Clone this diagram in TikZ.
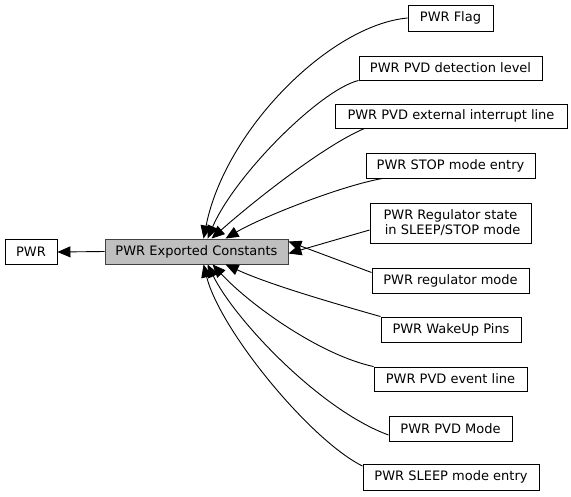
\documentclass[tikz,border=0pt]{standalone}
\usepackage{fontspec}
\setmainfont{DejaVu Sans}
\usetikzlibrary{arrows.meta}
\begin{document}
\begin{tikzpicture}[x=1pt,y=-1pt,
  box/.style={draw=black,line width=0.9pt,fill=white,inner sep=0pt,minimum height=25pt,align=center,font=\fontsize{13}{15}\selectfont},
  edge/.style={line width=0.9pt,-{Triangle[length=13pt,width=11pt]}}]
\useasboundingbox (0,0) rectangle (571,496);
\node[box,minimum width=52pt] (pwr) at (31,252) {PWR};
\node[box,minimum width=183pt,fill={rgb,255:red,191;green,191;blue,191},draw={rgb,255:red,64;green,64;blue,64}] (ec) at (196.5,251.5) {PWR Exported Constants};
\node[box,minimum width=85pt,minimum height=26pt] (flag) at (450.5,18) {PWR Flag};
\node[box,minimum width=183pt,minimum height=24pt] (det) at (450.5,68) {PWR PVD detection level};
\node[box,minimum width=232pt,minimum height=24pt] (ext) at (451,116) {PWR PVD external interrupt line};
\node[box,minimum width=169pt] (stop) at (450.5,165.5) {PWR STOP mode entry};
\node[box,minimum width=161pt,minimum height=40pt,font=\fontsize{13}{15}\selectfont] (rs) at (450.5,223) {PWR Regulator state\\ \ in SLEEP/STOP mode};
\node[box,minimum width=157pt] (rm) at (450.5,280.5) {PWR regulator mode};
\node[box,minimum width=140pt] (wu) at (451,329.5) {PWR WakeUp Pins};
\node[box,minimum width=153pt,minimum height=24pt] (ev) at (450.5,379) {PWR PVD event line};
\node[box,minimum width=123pt] (pm) at (450.5,428.5) {PWR PVD Mode};
\node[box,minimum width=176pt,minimum height=26pt] (sl) at (451,477) {PWR SLEEP mode entry};

\draw[edge] (ec.west) -- (pwr.east);
\draw[edge] (flag.west) .. controls (330,25) and (225,130) .. ([xshift=99pt]ec.north west);
\draw[edge] (det.south west) .. controls (320,90) and (235,175) .. ([xshift=103pt]ec.north west);
\draw[edge] ([xshift=30pt]ext.south west) .. controls (325,145) and (255,200) .. ([xshift=107pt]ec.north west);
\draw[edge] ([xshift=17pt]stop.south west) .. controls (340,186) and (260,218) .. ([xshift=121pt]ec.north west);
\draw[edge] ([yshift=-7pt]rs.west) -- ([yshift=-2pt]ec.east);
\draw[edge] ([yshift=8pt]rm.west) -- ([yshift=10pt]ec.east);
\draw[edge] (wu.north west) .. controls (340,305) and (270,285) .. ([xshift=121pt]ec.south west);
\draw[edge] (ev.north west) .. controls (320,355) and (250,305) .. ([xshift=108pt]ec.south west);
\draw[edge] ([yshift=-6.5pt]pm.west) .. controls (320,410) and (235,320) .. ([xshift=103pt]ec.south west);
\draw[edge] ([yshift=-2.5pt]sl.north west) .. controls (310,440) and (220,330) .. ([xshift=99pt]ec.south west);
\end{tikzpicture}
\end{document}
